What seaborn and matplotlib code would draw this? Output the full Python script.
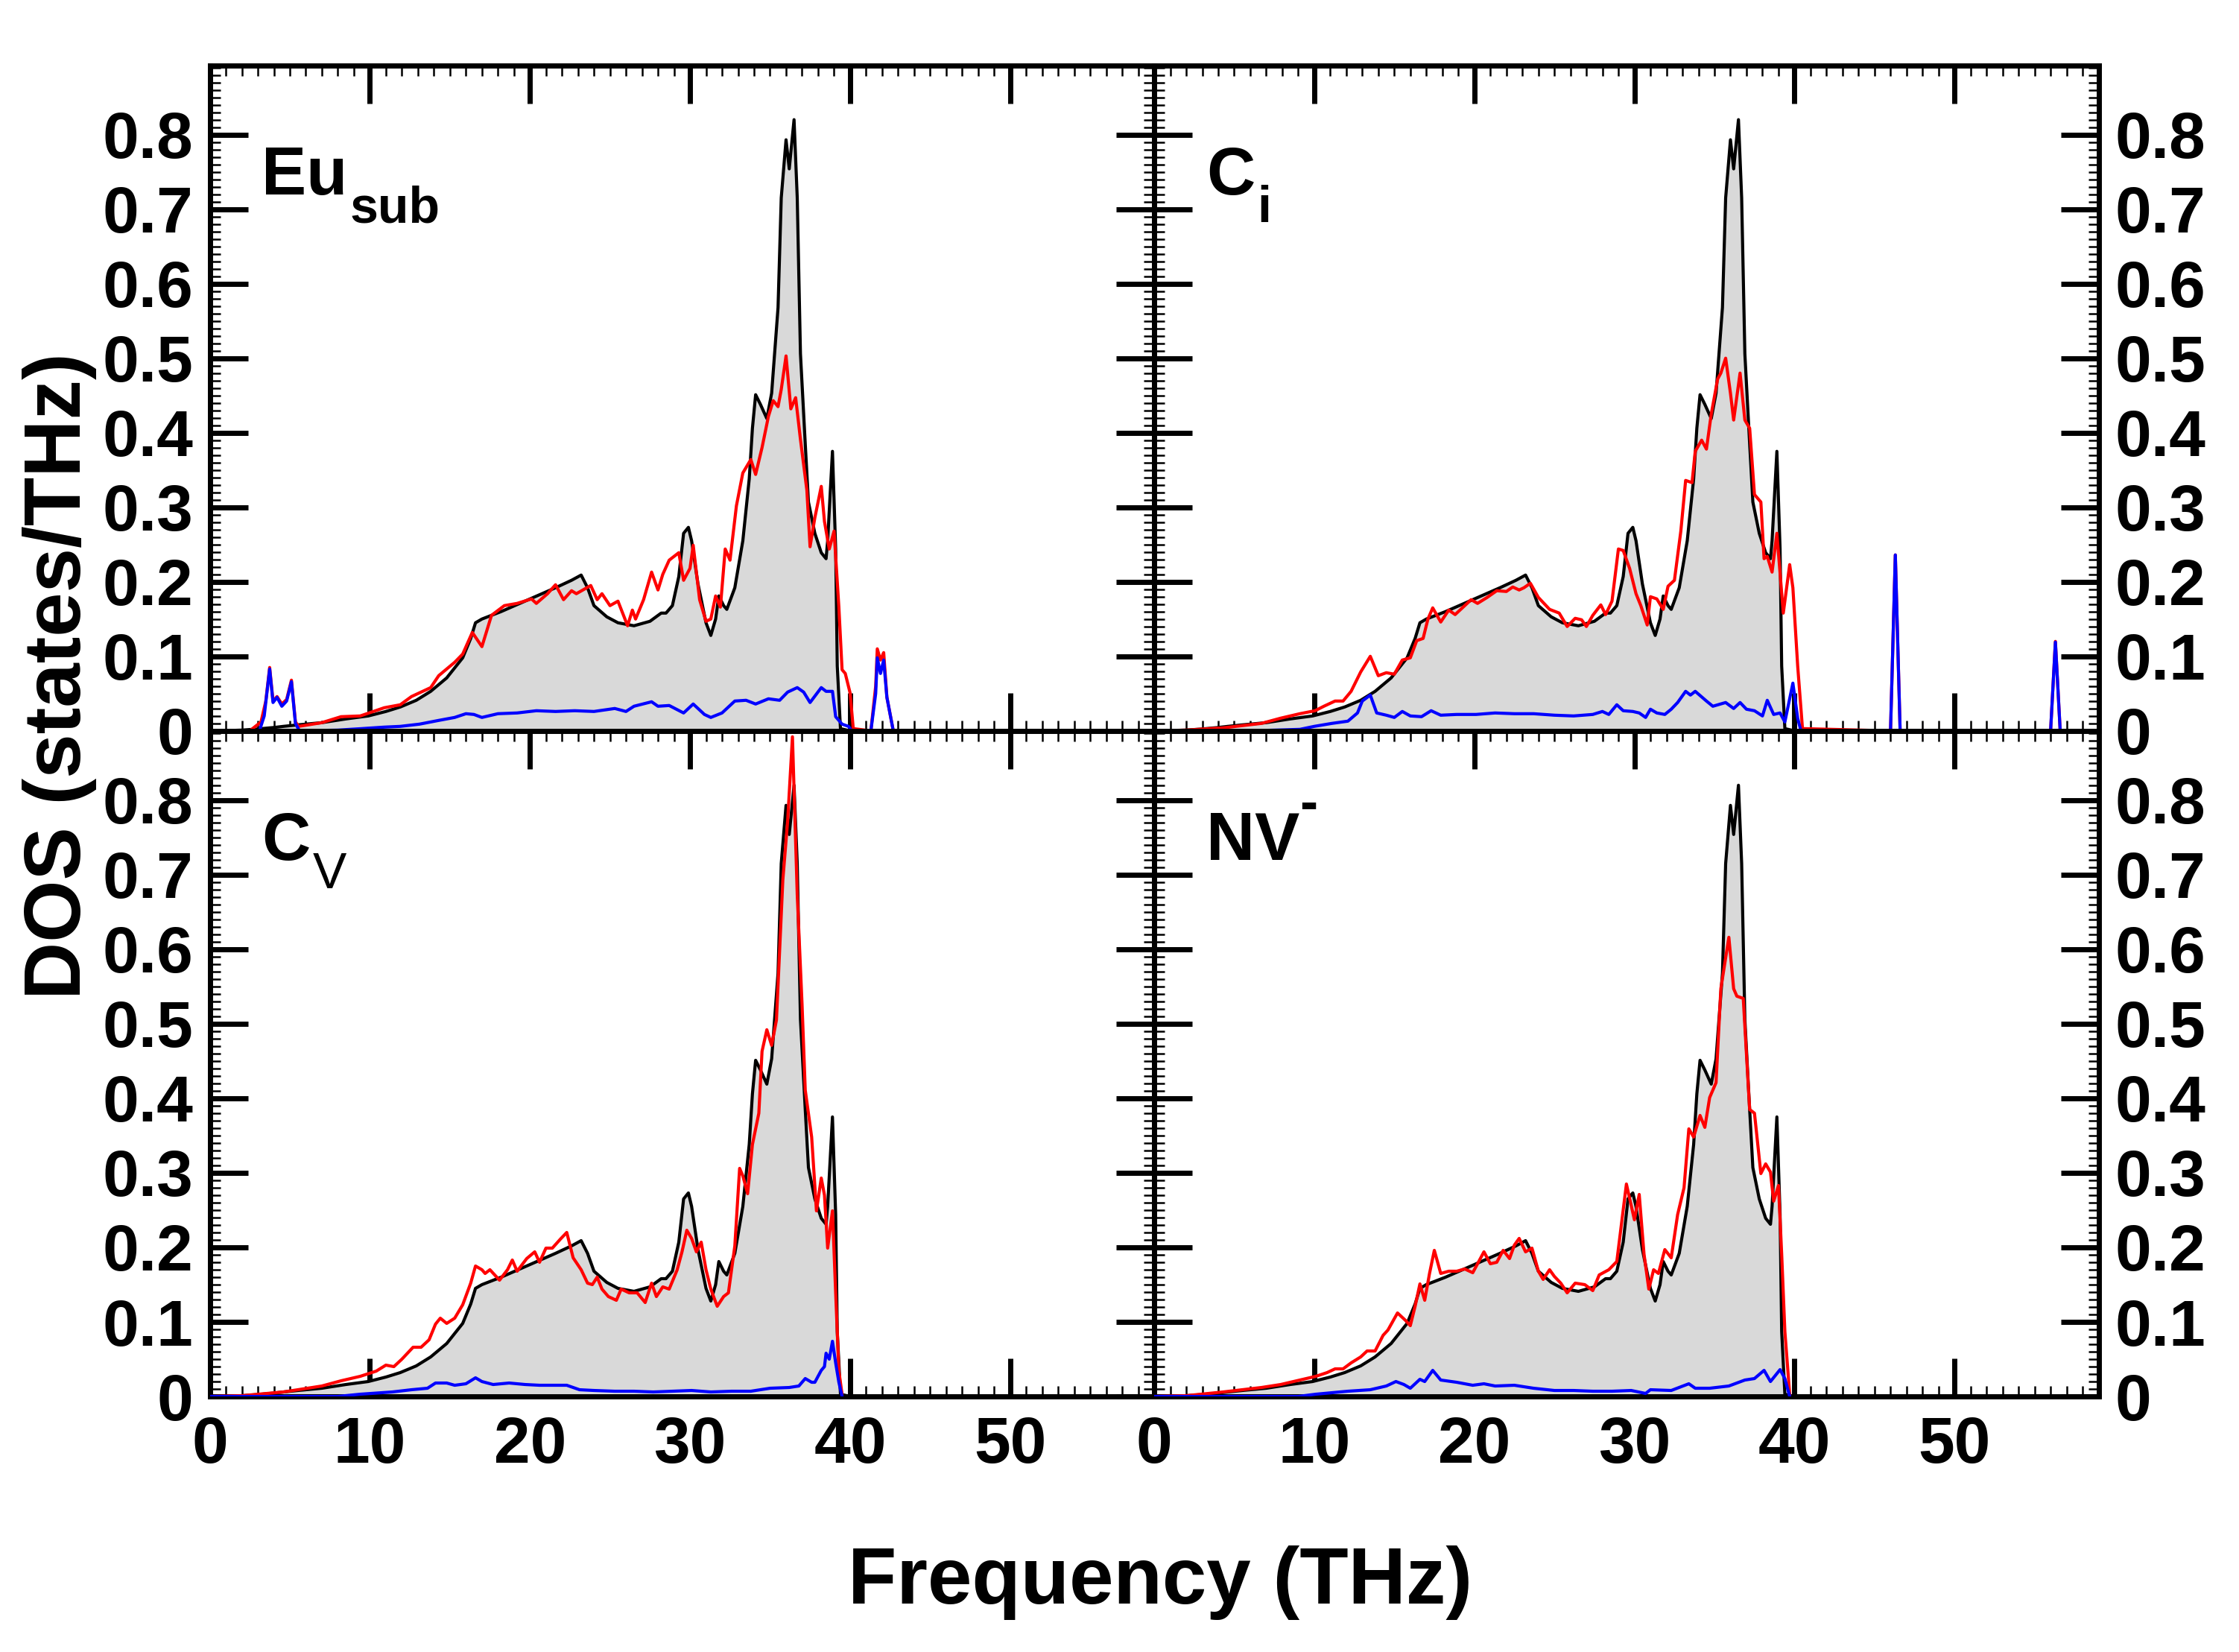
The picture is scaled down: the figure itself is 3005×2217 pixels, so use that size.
import matplotlib
matplotlib.use('Agg')
import matplotlib.pyplot as plt
from matplotlib.ticker import MultipleLocator, FuncFormatter
import seaborn as sns

# Bulk DOS (black line + grey fill), identical in all four panels
bulk_freq = [0, 1, 2, 3, 4, 4.6, 5.5, 7.0, 8.5, 9.9,
             11.0, 11.9, 12.9, 13.8, 14.8, 15.8, 16.3, 16.6, 17.0, 18.2,
             19.9, 21.6, 22.6, 23.2, 23.6, 24.0, 24.8, 25.5, 26.5, 27.5,
             28.2, 28.5, 28.9, 29.3, 29.6, 29.9, 30.1, 30.5, 31.0, 31.3,
             31.6, 31.8, 32.1, 32.3, 32.8, 33.3, 33.7, 33.9, 34.1, 34.4,
             34.8, 35.1, 35.5, 35.7, 36.0, 36.2, 36.5, 36.7, 36.9, 37.2,
             37.4, 37.8, 38.2, 38.5, 38.6, 38.9, 39.1, 39.2, 39.4, 40.0]
bulk_dos = [0, 0.0003, 0.001, 0.0025, 0.0045, 0.006, 0.008, 0.011, 0.016, 0.020,
            0.026, 0.032, 0.041, 0.053, 0.071, 0.098, 0.124, 0.145, 0.150, 0.160,
            0.176, 0.192, 0.202, 0.209, 0.192, 0.168, 0.153, 0.145, 0.141, 0.147,
            0.158, 0.158, 0.168, 0.207, 0.265, 0.273, 0.255, 0.197, 0.145, 0.128,
            0.150, 0.181, 0.168, 0.163, 0.192, 0.255, 0.338, 0.406, 0.451, 0.438,
            0.419, 0.453, 0.568, 0.715, 0.793, 0.754, 0.820, 0.715, 0.506, 0.385,
            0.307, 0.265, 0.239, 0.231, 0.255, 0.375, 0.244, 0.087, 0.003, 0.0]

# Eu_sub
eu_red_freq = [0, 2.5, 3.2, 3.5, 3.74, 3.95, 4.2, 4.5, 4.8, 5.1,
               5.35, 5.55, 7.0, 8.2, 9.4, 10.9, 11.9, 12.6, 13.8, 14.3,
               15.3, 15.8, 16.4, 17.0, 17.6, 18.4, 19.2, 20.1, 20.4, 21.1,
               21.6, 22.1, 22.6, 22.9, 23.8, 24.2, 24.5, 25.0, 25.5, 26.1,
               26.4, 26.6, 27.1, 27.6, 28.0, 28.3, 28.7, 29.3, 29.6, 30.0,
               30.2, 30.6, 31.0, 31.3, 31.6, 31.9, 32.2, 32.5, 32.9, 33.3,
               33.8, 34.1, 34.5, 34.9, 35.2, 35.5, 35.7, 36.0, 36.3, 36.6,
               36.9, 37.3, 37.5, 37.8, 38.2, 38.4, 38.7, 39.0, 39.3, 39.5,
               39.7, 40.0, 40.2, 41.3, 41.6, 41.7, 41.9, 42.1, 42.3, 42.7]
eu_red_dos = [0, 0.0, 0.012, 0.04, 0.085, 0.04, 0.046, 0.036, 0.042, 0.068,
              0.012, 0.006, 0.011, 0.019, 0.020, 0.031, 0.035, 0.046, 0.058, 0.074,
              0.092, 0.103, 0.132, 0.113, 0.155, 0.168, 0.171, 0.177, 0.171, 0.184,
              0.196, 0.176, 0.188, 0.184, 0.195, 0.176, 0.184, 0.168, 0.174, 0.141,
              0.162, 0.150, 0.176, 0.213, 0.189, 0.210, 0.229, 0.239, 0.202, 0.218,
              0.249, 0.176, 0.147, 0.150, 0.181, 0.166, 0.244, 0.229, 0.302, 0.346,
              0.364, 0.344, 0.380, 0.422, 0.443, 0.435, 0.458, 0.503, 0.432, 0.447,
              0.391, 0.323, 0.247, 0.286, 0.328, 0.281, 0.244, 0.268, 0.166, 0.082,
              0.077, 0.051, 0.003, 0.0, 0.06, 0.11, 0.095, 0.105, 0.045, 0.0]
eu_blue_freq = [0, 3.1, 3.4, 3.74, 3.95, 4.2, 4.5, 4.8, 5.1, 5.35,
                5.6, 8.0, 9.5, 10.9, 11.9, 13.1, 14.3, 15.3, 16.0, 16.5,
                17.0, 18.0, 19.2, 20.4, 21.6, 22.8, 24.0, 25.3, 26.0, 26.5,
                27.6, 28.0, 28.7, 29.6, 30.2, 30.9, 31.3, 32.0, 32.8, 33.5,
                34.1, 34.9, 35.6, 36.1, 36.7, 37.1, 37.5, 38.2, 38.5, 38.9,
                39.1, 39.5, 39.9, 40.1, 41.3, 41.6, 41.7, 41.9, 42.1, 42.3, 42.7]
eu_blue_dos = [0, 0, 0.02, 0.083, 0.038, 0.045, 0.033, 0.04, 0.066, 0.01,
               0.0, 0.001, 0.003, 0.005, 0.006, 0.009, 0.014, 0.018, 0.023, 0.022,
               0.018, 0.023, 0.024, 0.027, 0.026, 0.027, 0.026, 0.030, 0.026, 0.033,
               0.039, 0.033, 0.034, 0.024, 0.036, 0.022, 0.018, 0.024, 0.040, 0.041,
               0.036, 0.043, 0.041, 0.052, 0.058, 0.052, 0.038, 0.058, 0.053, 0.053,
               0.019, 0.009, 0.006, 0.0, 0.0, 0.05, 0.098, 0.077, 0.095, 0.045, 0.0]

# C_i
ci_red_freq = [0, 2.0, 4.3, 6.7, 7.9, 9.1, 10.05, 10.6, 11.3, 11.8,
               12.3, 12.9, 13.5, 14.0, 14.5, 15.0, 15.5, 16.0, 16.4, 16.8,
               17.1, 17.4, 17.9, 18.4, 18.8, 19.4, 19.8, 20.2, 20.8, 21.4,
               22.0, 22.4, 22.8, 23.1, 23.5, 24.0, 24.7, 25.3, 25.8, 26.3,
               26.7, 27.0, 27.4, 27.9, 28.2, 28.6, 29.0, 29.3, 29.7, 30.1,
               30.4, 30.8, 31.0, 31.4, 31.8, 32.1, 32.5, 32.9, 33.2, 33.6,
               33.8, 34.2, 34.5, 34.8, 35.2, 35.4, 35.7, 36.0, 36.2, 36.6,
               36.9, 37.2, 37.5, 37.9, 38.1, 38.3, 38.6, 38.9, 39.3, 39.7,
               39.9, 40.2, 40.5, 46.0, 46.3, 46.6, 56.0, 56.3, 56.6]
ci_red_dos = [0, 0.001, 0.004, 0.010, 0.017, 0.023, 0.027, 0.033, 0.040, 0.040,
              0.053, 0.079, 0.100, 0.074, 0.078, 0.076, 0.095, 0.098, 0.121, 0.124,
              0.150, 0.165, 0.146, 0.162, 0.156, 0.168, 0.176, 0.171, 0.179, 0.188,
              0.187, 0.193, 0.189, 0.192, 0.198, 0.179, 0.163, 0.158, 0.140, 0.151,
              0.149, 0.140, 0.155, 0.169, 0.156, 0.174, 0.244, 0.242, 0.218, 0.184,
              0.168, 0.142, 0.180, 0.177, 0.163, 0.194, 0.202, 0.268, 0.336, 0.333,
              0.375, 0.390, 0.378, 0.425, 0.472, 0.480, 0.500, 0.453, 0.417, 0.480,
              0.417, 0.406, 0.317, 0.307, 0.231, 0.234, 0.213, 0.265, 0.158, 0.223,
              0.192, 0.087, 0.003, 0.0, 0.236, 0.0, 0.0, 0.12, 0.0]
ci_blue_freq = [0, 6.0, 9.1, 10.0, 11.1, 12.1, 12.7, 13.0, 13.5, 13.9,
                14.5, 15.0, 15.5, 16.0, 16.7, 17.3, 17.9, 18.9, 20.1, 21.3,
                22.5, 23.7, 25.0, 26.2, 27.4, 28.0, 28.4, 28.9, 29.3, 29.9,
                30.3, 30.7, 31.0, 31.4, 31.9, 32.3, 32.7, 33.2, 33.5, 33.8,
                34.5, 34.9, 35.7, 36.2, 36.6, 37.0, 37.5, 38.0, 38.3, 38.7,
                39.1, 39.4, 39.9, 40.2, 40.4, 46.0, 46.3, 46.6, 56.0, 56.3, 56.6]
ci_blue_dos = [0, 0.0, 0.002, 0.006, 0.010, 0.013, 0.024, 0.040, 0.048, 0.024,
               0.021, 0.018, 0.026, 0.020, 0.019, 0.027, 0.021, 0.022, 0.022, 0.024,
               0.023, 0.023, 0.021, 0.020, 0.022, 0.026, 0.022, 0.035, 0.027, 0.026,
               0.024, 0.018, 0.029, 0.024, 0.022, 0.029, 0.038, 0.053, 0.048, 0.053,
               0.040, 0.033, 0.038, 0.030, 0.038, 0.029, 0.027, 0.020, 0.041, 0.022,
               0.024, 0.012, 0.064, 0.017, 0.0, 0.0, 0.236, 0.0, 0.0, 0.119, 0.0]

# C_V
cv_red_freq = [0, 2.0, 4.6, 7.0, 8.2, 9.4, 10.4, 11.0, 11.5, 12.0,
               12.7, 13.2, 13.7, 14.1, 14.4, 14.8, 15.3, 15.8, 16.3, 16.6,
               17.0, 17.2, 17.5, 18.1, 18.6, 18.9, 19.2, 19.8, 20.3, 20.6,
               21.0, 21.4, 21.9, 22.3, 22.7, 23.2, 23.6, 23.9, 24.2, 24.5,
               24.9, 25.4, 25.7, 26.2, 26.7, 27.2, 27.6, 27.9, 28.3, 28.7,
               29.2, 29.5, 29.8, 30.1, 30.4, 30.7, 31.0, 31.3, 31.7, 32.1,
               32.4, 32.8, 33.1, 33.3, 33.6, 33.9, 34.3, 34.5, 34.8, 35.1,
               35.4, 35.6, 35.8, 36.1, 36.4, 36.7, 37.0, 37.2, 37.6, 37.9,
               38.2, 38.4, 38.6, 38.9, 39.1, 39.3, 39.5]
cv_red_dos = [0, 0.001, 0.006, 0.014, 0.021, 0.027, 0.034, 0.042, 0.040, 0.050,
              0.066, 0.066, 0.076, 0.097, 0.105, 0.098, 0.105, 0.123, 0.152, 0.175,
              0.170, 0.165, 0.170, 0.156, 0.170, 0.183, 0.168, 0.185, 0.194, 0.180,
              0.199, 0.199, 0.211, 0.220, 0.186, 0.170, 0.152, 0.150, 0.160, 0.144,
              0.134, 0.129, 0.144, 0.139, 0.139, 0.126, 0.152, 0.134, 0.147, 0.144,
              0.170, 0.194, 0.223, 0.212, 0.194, 0.207, 0.170, 0.144, 0.121, 0.134,
              0.139, 0.202, 0.306, 0.296, 0.272, 0.338, 0.380, 0.463, 0.492, 0.471,
              0.505, 0.599, 0.693, 0.772, 0.885, 0.673, 0.526, 0.411, 0.348, 0.249,
              0.293, 0.270, 0.199, 0.249, 0.139, 0.034, 0.003]
cv_blue_freq = [0, 8.0, 9.4, 11.4, 12.6, 13.6, 14.1, 14.8, 15.3, 16.0,
                16.6, 17.0, 17.7, 18.7, 19.7, 20.6, 21.6, 22.3, 23.1, 24.0,
                25.3, 26.5, 27.7, 28.9, 30.1, 31.3, 32.6, 33.8, 35.0, 36.2,
                36.8, 37.2, 37.6, 37.8, 38.2, 38.4, 38.5, 38.7, 38.9, 39.1,
                39.3, 39.5]
cv_blue_dos = [0, 0.0, 0.003, 0.006, 0.009, 0.011, 0.018, 0.018, 0.015, 0.017,
               0.025, 0.020, 0.016, 0.018, 0.016, 0.015, 0.015, 0.015, 0.009, 0.008,
               0.007, 0.007, 0.006, 0.007, 0.008, 0.006, 0.007, 0.007, 0.011, 0.012,
               0.014, 0.024, 0.019, 0.019, 0.035, 0.040, 0.058, 0.050, 0.074, 0.045,
               0.019, 0.0]

# NV-
nv_red_freq = [0, 2.0, 4.3, 6.7, 7.9, 9.1, 10.1, 10.8, 11.3, 11.8,
               12.3, 12.9, 13.3, 13.8, 14.3, 14.6, 15.2, 15.7, 16.0, 16.3,
               16.6, 16.9, 17.2, 17.5, 17.9, 18.4, 18.9, 19.4, 19.9, 20.2,
               20.6, 21.0, 21.4, 21.8, 22.2, 22.5, 22.8, 23.2, 23.6, 24.0,
               24.3, 24.7, 25.0, 25.4, 25.8, 26.3, 26.9, 27.4, 27.8, 28.4,
               28.9, 29.2, 29.5, 30.0, 30.3, 30.6, 30.9, 31.2, 31.5, 31.9,
               32.3, 32.7, 33.1, 33.4, 33.7, 34.1, 34.4, 34.7, 35.1, 35.4,
               35.9, 36.2, 36.4, 36.8, 37.2, 37.5, 37.9, 38.2, 38.5, 38.7,
               39.0, 39.2, 39.4, 39.7]
nv_red_dos = [0, 0.001, 0.006, 0.012, 0.016, 0.022, 0.027, 0.032, 0.037, 0.037,
              0.045, 0.053, 0.061, 0.061, 0.082, 0.089, 0.112, 0.102, 0.095, 0.121,
              0.151, 0.129, 0.165, 0.196, 0.165, 0.168, 0.168, 0.171, 0.166, 0.178,
              0.194, 0.178, 0.180, 0.196, 0.185, 0.203, 0.212, 0.194, 0.199, 0.168,
              0.157, 0.170, 0.161, 0.152, 0.139, 0.152, 0.150, 0.142, 0.163, 0.170,
              0.181, 0.233, 0.285, 0.237, 0.271, 0.191, 0.144, 0.170, 0.165, 0.197,
              0.186, 0.244, 0.280, 0.359, 0.348, 0.377, 0.361, 0.401, 0.421, 0.547,
              0.616, 0.547, 0.537, 0.534, 0.385, 0.380, 0.299, 0.312, 0.301, 0.262,
              0.283, 0.191, 0.087, 0.003]
nv_blue_freq = [0, 9.0, 10.1, 12.1, 13.5, 14.5, 15.1, 15.6, 16.0, 16.6,
                16.9, 17.4, 17.9, 18.9, 19.9, 20.6, 21.3, 22.5, 23.7, 25.0,
                26.2, 27.4, 28.6, 29.8, 30.7, 31.0, 32.3, 33.4, 33.8, 34.7,
                35.9, 36.9, 37.5, 38.1, 38.5, 39.1, 39.4, 39.7]
nv_blue_dos = [0, 0.0, 0.003, 0.007, 0.009, 0.014, 0.020, 0.016, 0.011, 0.023,
               0.020, 0.035, 0.022, 0.019, 0.015, 0.017, 0.014, 0.015, 0.011, 0.008,
               0.008, 0.007, 0.007, 0.008, 0.004, 0.009, 0.008, 0.017, 0.011, 0.011,
               0.014, 0.022, 0.024, 0.035, 0.020, 0.036, 0.024, 0.0]

# panel labels: main text, small text, 'sub' or 'sup', weight of small text
label_main = ['Eu', 'C', 'C', 'NV']
label_small = ['sub', 'i', 'V', '-']
label_kind = ['sub', 'sub', 'sub', 'sup']
label_small_weight = ['bold', 'bold', 'normal', 'bold']

sns.set_style('ticks')
plt.rcParams['font.family'] = ['Liberation Sans', 'DejaVu Sans']
plt.rcParams['font.weight'] = 'bold'
for key in ['text.color', 'axes.labelcolor', 'xtick.color', 'ytick.color',
            'axes.edgecolor']:
    plt.rcParams[key] = 'black'

fig, axes = plt.subplots(2, 2, figsize=(30.05, 22.17), dpi=100)
fig.subplots_adjust(left=0.0937, right=0.9373, top=0.9605, bottom=0.1547,
                    wspace=0, hspace=0)

panels = [
    (axes[0, 0], eu_red_freq, eu_red_dos, eu_blue_freq, eu_blue_dos),
    (axes[0, 1], ci_red_freq, ci_red_dos, ci_blue_freq, ci_blue_dos),
    (axes[1, 0], cv_red_freq, cv_red_dos, cv_blue_freq, cv_blue_dos),
    (axes[1, 1], nv_red_freq, nv_red_dos, nv_blue_freq, nv_blue_dos),
]

yfmt = FuncFormatter(lambda v, p: '0' if abs(v) < 1e-6 else f'{v:.1f}')
lw = 3.0

for i, (ax, rf, rd, bf, bd) in enumerate(panels):
    ax.fill_between(bulk_freq, bulk_dos, color='#d9d9d9', lw=0, zorder=1)
    sns.lineplot(x=bulk_freq, y=bulk_dos, ax=ax, color='black', linewidth=lw,
                 estimator=None, sort=False, zorder=2)
    sns.lineplot(x=rf, y=rd, ax=ax, color='#ff0000', linewidth=lw,
                 estimator=None, sort=False, zorder=3)
    sns.lineplot(x=bf, y=bd, ax=ax, color='#0000ff', linewidth=lw,
                 estimator=None, sort=False, zorder=4)

    ax.set_xlim(0, 59)
    ax.set_ylim(0, 0.893)
    ax.xaxis.set_major_locator(MultipleLocator(10))
    ax.xaxis.set_minor_locator(MultipleLocator(1))
    ax.yaxis.set_major_locator(MultipleLocator(0.1))
    ax.yaxis.set_minor_locator(MultipleLocator(0.01))
    ax.yaxis.set_major_formatter(yfmt)
    ax.set_xlabel('')
    ax.set_ylabel('')
    for s in ax.spines.values():
        s.set_linewidth(5)
        s.set_color('black')
        s.set_visible(True)

    ax.tick_params(which='major', direction='in', length=37, width=5,
                   top=True, bottom=True, left=True, right=True,
                   labelsize=63, colors='black')
    ax.tick_params(which='minor', direction='in', length=10, width=1.8,
                   top=True, bottom=True, left=True, right=True)
    ax.tick_params(axis='x', which='major', pad=19)
    ax.tick_params(axis='y', which='major', pad=16)

    row, col = divmod(i, 2)
    if row == 0:
        ax.tick_params(labelbottom=False)
    if col == 1:
        ax.tick_params(labelleft=False, labelright=True)
    for lab in ax.get_xticklabels() + ax.get_yticklabels():
        lab.set_fontweight('bold')

    main = ax.text(3.25, 0.72, label_main[i], fontsize=65, fontweight='bold',
                   va='baseline', ha='left', zorder=5)
    if label_kind[i] == 'sub':
        ax.annotate(label_small[i], xy=(1, 0), xycoords=main,
                    xytext=(2, -13.5), textcoords='offset points',
                    fontsize=49, fontweight=label_small_weight[i],
                    va='baseline', ha='left', zorder=5)
    else:
        ax.annotate(label_small[i], xy=(1, 1), xycoords=main,
                    xytext=(0, -9), textcoords='offset points',
                    fontsize=52, fontweight=label_small_weight[i],
                    va='baseline', ha='left', zorder=5)

fig.text(0.518, 0.042, 'Frequency (THz)', fontsize=77, fontweight='bold',
         ha='center', va='center')
fig.text(0.0266, 0.591, 'DOS (states/THz)', fontsize=77, fontweight='bold',
         rotation=90, ha='center', va='center')

fig.savefig('out.png', dpi=100)
